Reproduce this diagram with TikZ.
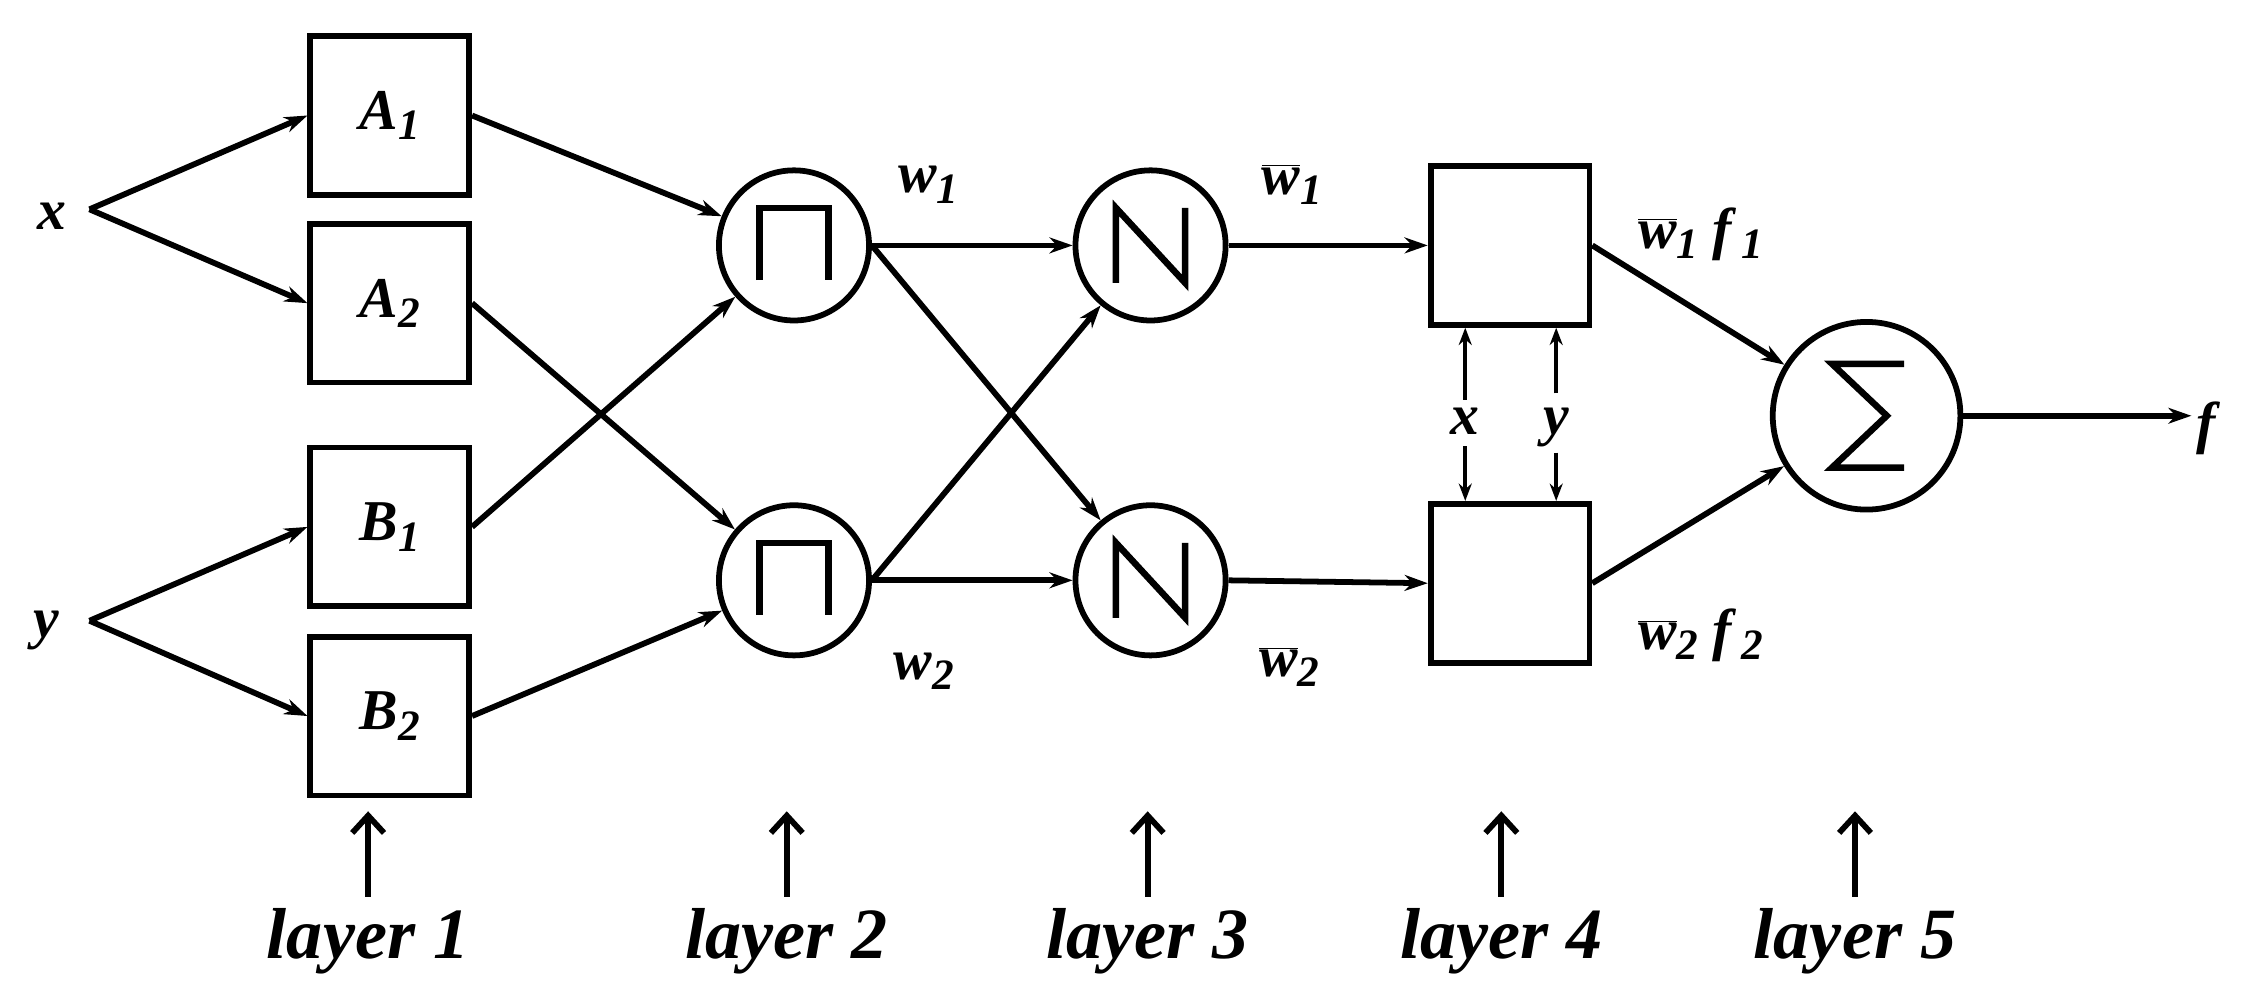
\documentclass[tikz,border=0pt]{standalone}
\usepackage{fontspec}
\setmainfont{Liberation Serif}
\usetikzlibrary{arrows.meta}
\newcommand{\mysub}[1]{\raisebox{-0.18em}{\fontsize{30}{30}\selectfont #1}}
\newcommand{\wb}{$\overline{\hbox{w}}$}
\begin{document}
\begin{tikzpicture}[x=1pt,y=-1pt,line width=4pt,
  box/.style={draw,minimum width=110pt,minimum height=110pt,inner sep=0pt},
  circ/.style={draw,circle,minimum size=104pt,inner sep=0pt},
  lab/.style={font=\fontsize{40}{42}\selectfont\bfseries\itshape,inner sep=0pt},
  big/.style={font=\fontsize{50}{52}\selectfont\bfseries\itshape,inner sep=0pt},
  arr/.style={-{Stealth[length=16pt,width=11pt]}},
  sarr/.style={-{Stealth[length=12pt,width=9pt]},line width=3pt}]
\useasboundingbox (0,0) rectangle (1560,693);
\node[lab] (x) at (36,150) {x};
\node[lab] (y) at (32,437) {y};
\coordinate (xs) at (62,145);
\coordinate (ys) at (62,430);
\node[box] (A1) at (270,80) {\fontsize{40}{42}\selectfont\bfseries\itshape A\mysub{1}};
\node[box] (A2) at (270,210) {\fontsize{40}{42}\selectfont\bfseries\itshape A\mysub{2}};
\node[box] (B1) at (270,365) {\fontsize{40}{42}\selectfont\bfseries\itshape B\mysub{1}};
\node[box] (B2) at (270,496) {\fontsize{40}{42}\selectfont\bfseries\itshape B\mysub{2}};
\node[circ] (P1) at (550,170) {};
\node[circ] (P2) at (550,402) {};
\node[circ] (N1) at (797,170) {};
\node[circ] (N2) at (797,402) {};
\node[box] (C1) at (1046,170) {};
\node[box] (C2) at (1046,404) {};
\node[circ,minimum size=130pt] (S) at (1293,288) {};
\node[lab] (f) at (1528,297) {f};
\coordinate (fe) at (1518,288);
% symbols
\foreach \c in {P1,P2}{
  \draw[line width=4.5pt] ([shift={(-24,24)}]\c.center) -- ++(0,-50) -- ++(48,0) -- ++(0,50);}
\foreach \c in {N1,N2}{
  \draw[line width=4.5pt] ([shift={(-24,26)}]\c.center) -- ++(0,-52) -- ++(48,52) -- ++(0,-52);}
\draw[line width=4.5pt] ([shift={(26,-36)}]S.center) -- ++(-50,0) -- ++(38,36) -- ++(-38,36) -- ++(50,0);
% connectors
\draw[arr] (xs) -- (A1.west);
\draw[arr] (xs) -- (A2.west);
\draw[arr] (ys) -- (B1.west);
\draw[arr] (ys) -- (B2.west);
\draw[arr] (A1.east) -- (P1);
\draw[arr] (B1.east) -- (P1);
\draw[arr] (A2.east) -- (P2);
\draw[arr] (B2.east) -- (P2);
\draw[arr] (P1.east) -- (N1.west);
\draw[arr] (P1.east) -- (N2);
\draw[arr] (P2.east) -- (N1);
\draw[arr] (P2.east) -- (N2.west);
\draw[arr] (N1.east) -- (C1.west);
\draw[arr] (N2.east) -- (C2.west);
\draw[arr] (C1.east) -- (S);
\draw[arr] (C2.east) -- (S);
\draw[arr] (S.east) -- (fe);
% layer 4 inputs
\node[lab] (x4) at (1015,292) {x};
\node[lab] (y4) at (1078,296) {y};
\draw[sarr] (x4.north) ++(0,-4) coordinate (x4n) -- ([xshift=-31pt]C1.south);
\draw[sarr] (x4.south) ++(0,6) coordinate (x4s) -- ([xshift=-31pt]C2.north);
\draw[sarr] (y4.north) ++(0,-8) coordinate (y4n) -- ([xshift=32pt]C1.south);
\draw[sarr] (y4.south) ++(0,2) coordinate (y4s) -- ([xshift=32pt]C2.north);
% labels
\node[lab] (w1) at (643,128) {w\mysub{1}};
\node[lab] (w2) at (640,465) {w\mysub{2}};
\node[lab] (wb1) at (895,128) {\wb\mysub{1}};
\node[lab] (wb2) at (893,462) {\wb\mysub{2}};
\node[lab] (wf1) at (1178,162) {\wb\mysub{1} f\,\mysub{1}};
\node[lab] (wf2) at (1178,440) {\wb\mysub{2} f\,\mysub{2}};
% layers
\foreach \n/\xx in {1/255,2/545,3/795,4/1040,5/1285}{
  \node[big] (L\n) at (\xx,652) {layer \n};
  \coordinate (La\n) at (\xx,562);
  \draw[-{Straight Barb[length=12pt,width=22pt]}] (L\n.north) ++(0,-6) -- (La\n);}
\end{tikzpicture}
\end{document}
